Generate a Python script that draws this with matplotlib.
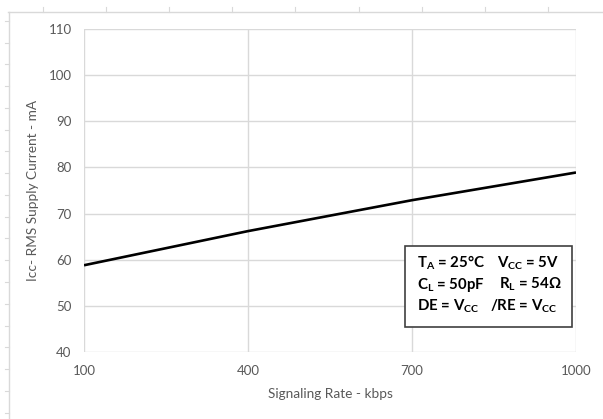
import numpy as np
import matplotlib
matplotlib.use("Agg")
import matplotlib.pyplot as plt
from matplotlib.lines import Line2D
from matplotlib.patches import Rectangle

# data
rate_kbps = [100, 400, 700, 1000]
icc_ma = [58.8, 66.2, 72.9, 78.9]
x_ticks = [100, 400, 700, 1000]
y_ticks = [40, 50, 60, 70, 80, 90, 100, 110]

plt.rcParams["font.family"] = ["Lato", "DejaVu Sans"]
plt.rcParams["mathtext.default"] = "regular"

W, H = 603, 419
fig = plt.figure(figsize=(W / 100, H / 100), dpi=100)
ax = fig.add_axes([84 / W, 1 - 352 / H, (576 - 84) / W, (352 - 29) / H])

ax.plot(rate_kbps, icc_ma, color="black", linewidth=1.9, solid_capstyle="butt", zorder=3)

ax.set_xlim(100, 1000)
ax.set_ylim(40, 110)
ax.set_xticks(x_ticks)
ax.set_yticks(y_ticks)
ax.grid(True, color="#d9d9d9", linewidth=1.0)
ax.set_axisbelow(True)
for s in ax.spines.values():
    s.set_visible(False)
ax.tick_params(length=0, labelsize=9.5, labelcolor="#595959")
ax.tick_params(axis="y", pad=9)
ax.tick_params(axis="x", pad=9)

ax.set_xlabel("Signaling Rate - kbps", fontsize=9.8, color="#595959", labelpad=8)
ax.set_ylabel("Icc- RMS Supply Current - mA", fontsize=9.8, color="#595959", labelpad=7)

# conditions box
box = Rectangle((405 / W, 1 - 327 / H), (572 - 405) / W, (327 - 246) / H,
                transform=fig.transFigure, fill=True, facecolor="white",
                edgecolor="#404040", linewidth=1.2, zorder=5)
fig.add_artist(box)
rows = [
    (r"T$_{A}$ = 25°C", r"V$_{CC}$ = 5V", 497),
    (r"C$_{L}$ = 50pF", r"R$_{L}$ = 54Ω", 499),
    (r"DE = V$_{CC}$", r"/RE = V$_{CC}$", 490),
]
for i, (left, right, xr) in enumerate(rows):
    yy = 1 - (263 + i * 21.5) / H
    fig.text(417 / W, yy, left, fontsize=10.8, fontweight="bold", va="center", zorder=6)
    fig.text(xr / W, yy, right, fontsize=10.8, fontweight="bold", va="center", zorder=6)

# worksheet ruler lines around the chart
rc = "#d9d9d9"
fig.add_artist(Line2D([8 / W, 1], [1 - 12 / H] * 2, color=rc, lw=1.0, transform=fig.transFigure))
fig.add_artist(Line2D([9 / W] * 2, [0, 1 - 12 / H], color=rc, lw=1.0, transform=fig.transFigure))
for px in np.arange(43, W, 63.1):
    fig.add_artist(Line2D([px / W] * 2, [1 - 7 / H, 1 - 12 / H], color=rc, lw=0.8,
                          transform=fig.transFigure))
for py in np.arange(21, H, 21.75):
    fig.add_artist(Line2D([5 / W, 9 / W], [1 - py / H] * 2, color=rc, lw=0.8,
                          transform=fig.transFigure))

fig.savefig("out.png", dpi=100)
